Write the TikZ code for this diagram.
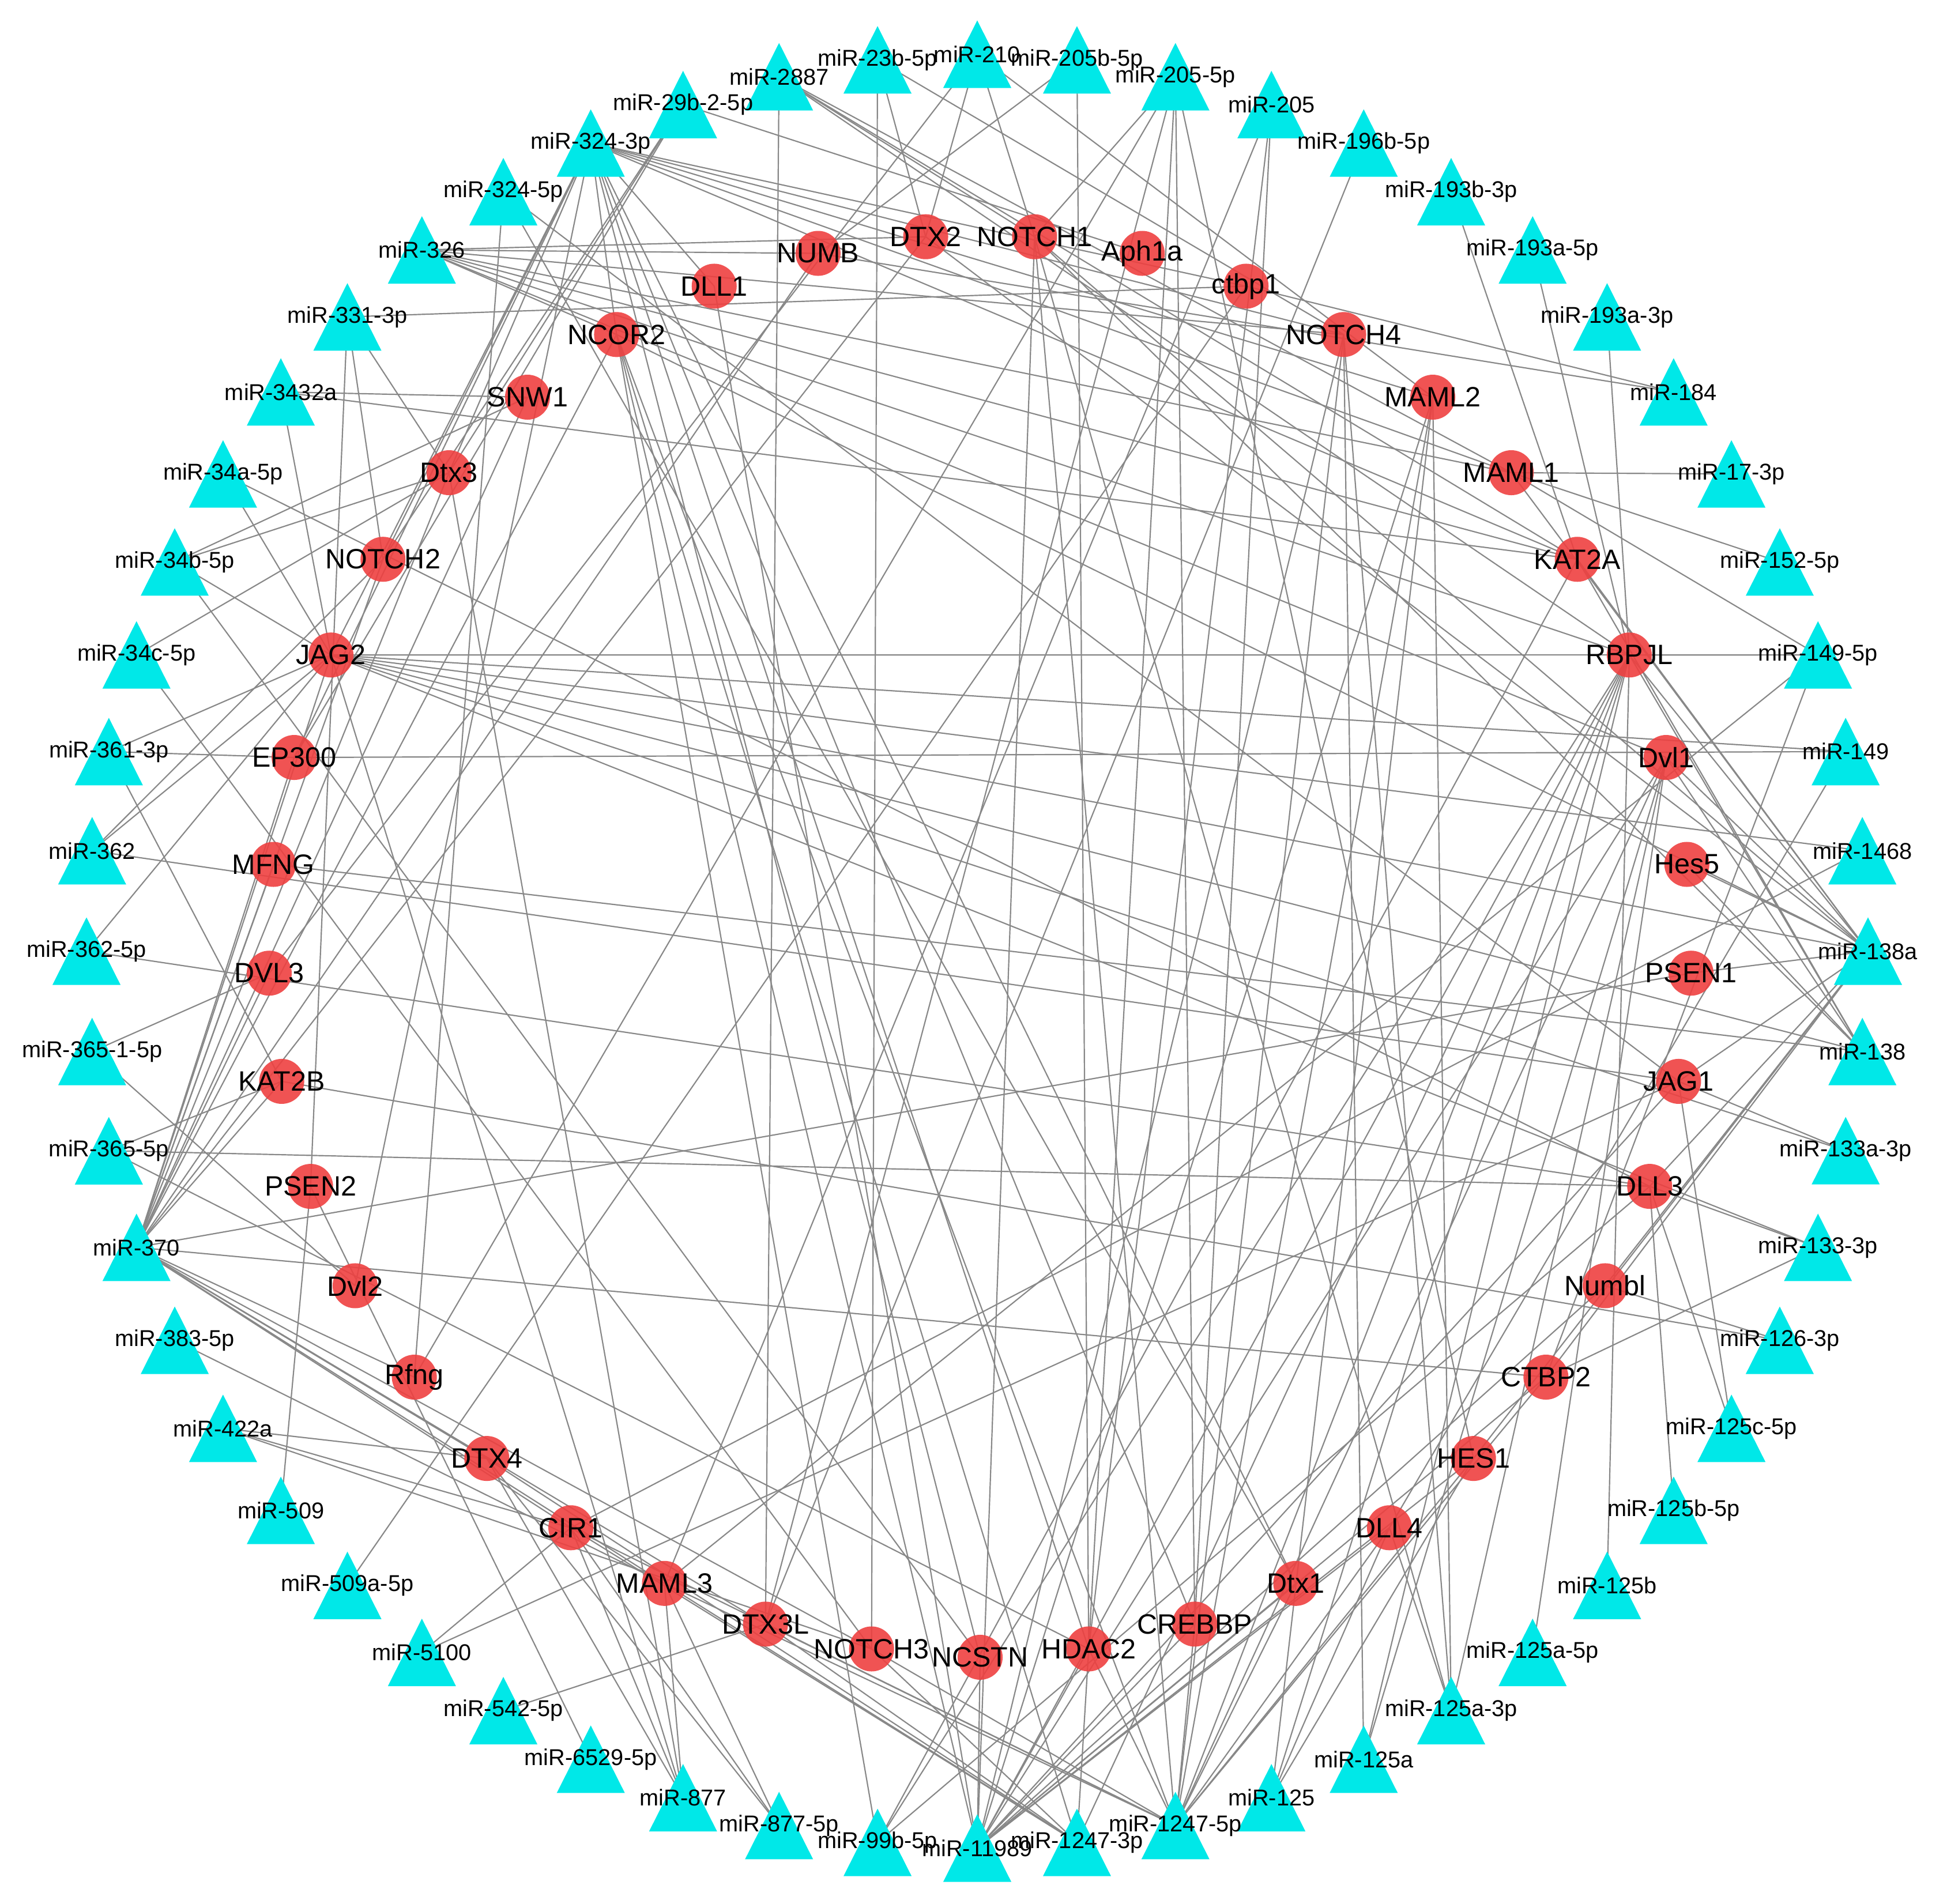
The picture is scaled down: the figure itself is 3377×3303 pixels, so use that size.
\documentclass[tikz,border=0pt]{standalone}
\usepackage{fontspec}
\setmainfont{Liberation Sans}
\usetikzlibrary{backgrounds}
\definecolor{genered}{RGB}{238,64,64}
\definecolor{mircyan}{RGB}{0,232,232}
\definecolor{edgegray}{RGB}{136,136,136}
\def\genes{NOTCH1,Aph1a,ctbp1,NOTCH4,MAML2,MAML1,KAT2A,RBPJL,Dvl1,Hes5,PSEN1,JAG1,DLL3,Numbl,CTBP2,HES1,DLL4,Dtx1,CREBBP,HDAC2,NCSTN,NOTCH3,DTX3L,MAML3,CIR1,DTX4,Rfng,Dvl2,PSEN2,KAT2B,DVL3,MFNG,EP300,JAG2,NOTCH2,Dtx3,SNW1,NCOR2,DLL1,NUMB,DTX2}
\def\mirs{miR-210,miR-205b-5p,miR-205-5p,miR-205,miR-196b-5p,miR-193b-3p,miR-193a-5p,miR-193a-3p,miR-184,miR-17-3p,miR-152-5p,miR-149-5p,miR-149,miR-1468,miR-138a,miR-138,miR-133a-3p,miR-133-3p,miR-126-3p,miR-125c-5p,miR-125b-5p,miR-125b,miR-125a-5p,miR-125a-3p,miR-125a,miR-125,miR-1247-5p,miR-1247-3p,miR-11989,miR-99b-5p,miR-877-5p,miR-877,miR-6529-5p,miR-542-5p,miR-5100,miR-509a-5p,miR-509,miR-422a,miR-383-5p,miR-370,miR-365-5p,miR-365-1-5p,miR-362-5p,miR-362,miR-361-3p,miR-34c-5p,miR-34b-5p,miR-34a-5p,miR-3432a,miR-331-3p,miR-326,miR-324-5p,miR-324-3p,miR-29b-2-5p,miR-2887,miR-23b-5p}
\begin{document}
\begin{tikzpicture}[x=0.01cm,y=-0.01cm,
  gene/.style={circle, fill=genered, fill opacity=0.9, draw=none, minimum size=0.78cm, inner sep=0pt},
  mir/.style={rectangle, draw=none, minimum width=1.18cm, minimum height=1.17cm, inner sep=0pt,
    path picture={\fill[mircyan] (path picture bounding box.south west) -- (path picture bounding box.north) -- (path picture bounding box.south east) -- cycle;}},
  genelab/.style={font=\fontsize{13.8}{16}\selectfont, inner sep=0pt, text=black},
  mirlab/.style={font=\fontsize{11.3}{13}\selectfont, inner sep=0pt, text=black},
  edge/.style={draw=edgegray, line width=0.62pt}]
\useasboundingbox (0,0) rectangle (3377,3303);
% gene nodes (inner circle)
\foreach \g [count=\i from 0] in \genes {
  \pgfmathsetmacro\a{90-360/41*(\i+0.5)}
  \node[gene] (\g) at ({1700+1234*cos(\a)},{1641-1234*sin(\a)}) {};
}
% miRNA nodes (outer circle)
\foreach \m [count=\j from 0] in \mirs {
  \pgfmathsetmacro\a{90-360/56*\j}
  \node[mir] (\m) at ({1695+1545*cos(\a)},{1650-1556*sin(\a)}) {};
}
% labels
\foreach \g in \genes { \node[genelab] (\g-lab) at (\g.center) {\g}; }
\foreach \m in \mirs { \node[mirlab] (\m-lab) at (\m.center) {\m}; }
% connectors
\begin{pgfonlayer}{background}
\foreach \m/\gl in {
miR-210/{DTX2,NOTCH1,DVL3,MAML2},
miR-205b-5p/{NUMB,HDAC2},
miR-205-5p/{NOTCH1,DTX3L,CREBBP,HDAC2,HES1,Rfng},
miR-205/{MAML3,CREBBP,HDAC2},
miR-196b-5p/{DTX3L},
miR-193b-3p/{KAT2A},
miR-193a-5p/{RBPJL},
miR-193a-3p/{RBPJL},
miR-184/{ctbp1,NUMB},
miR-17-3p/{MAML1},
miR-152-5p/{MAML1},
miR-149-5p/{MAML1,RBPJL,JAG2,CTBP2,MAML3},
miR-149/{JAG2,EP300,DLL4},
miR-1468/{JAG2,CIR1},
miR-138a/{Hes5,Dvl1,RBPJL,KAT2A,MAML1,JAG2,DLL3,JAG1,Numbl,CTBP2,PSEN1,NCOR2,HES1,NOTCH1,DTX2},
miR-138/{JAG2,MFNG,RBPJL,Hes5,Dvl1,KAT2A,NOTCH1},
miR-133a-3p/{JAG2,JAG1},
miR-133-3p/{JAG2,DLL3,CTBP2},
miR-126-3p/{KAT2B,Numbl},
miR-125c-5p/{JAG1,DLL3},
miR-125b-5p/{DLL3},
miR-125b/{RBPJL},
miR-125a-5p/{Dvl1},
miR-125a-3p/{DLL4,MAML2,NOTCH4,NOTCH1,Dvl1},
miR-125a/{RBPJL,Dvl1,NOTCH4},
miR-125/{DLL4,HES1,RBPJL,MAML2},
miR-1247-5p/{CREBBP,HDAC2,Dtx1,DLL4,HES1,CTBP2,NOTCH3,DTX3L,MAML3,CIR1,RBPJL,Dvl1,NOTCH4,MAML2,NCOR2,NOTCH1},
miR-1247-3p/{NOTCH3,DTX3L,MAML3,CIR1,DTX4,HDAC2,RBPJL,NCOR2},
miR-11989/{NCSTN,HDAC2,CREBBP,Dtx1,DLL4,HES1,CTBP2,Numbl,JAG1,RBPJL,Dvl1,NOTCH4,MAML2,NOTCH1,DLL1,NCOR2},
miR-99b-5p/{DLL3,NCOR2,KAT2A,RBPJL},
miR-877-5p/{MAML3,CIR1,DTX4},
miR-877/{CIR1,JAG2,MAML3,DTX4,Dtx3},
miR-6529-5p/{PSEN2},
miR-542-5p/{DTX3L},
miR-5100/{CIR1,JAG1},
miR-509a-5p/{ctbp1},
miR-509/{PSEN2},
miR-422a/{DTX4,CIR1,NOTCH3},
miR-383-5p/{MAML3},
miR-370/{JAG2,EP300,MFNG,NOTCH2,Dtx3,SNW1,NCOR2,NUMB,DTX2,DVL3,KAT2B,PSEN1,CTBP2,Rfng,DTX4,CIR1,MAML3,DTX3L,NOTCH3},
miR-365-5p/{KAT2B,HDAC2,DLL3},
miR-365-1-5p/{DVL3,Dvl2},
miR-362-5p/{DLL3,JAG2},
miR-362/{JAG1,JAG2,NOTCH2},
miR-361-3p/{EP300,JAG2,KAT2B},
miR-34c-5p/{NOTCH3,Dtx3},
miR-34b-5p/{Dtx3,SNW1,JAG2,NCSTN},
miR-34a-5p/{JAG2,DLL3},
miR-3432a/{KAT2A,JAG2,SNW1},
miR-331-3p/{ctbp1,NOTCH2,PSEN2,Dtx3},
miR-326/{NUMB,DTX2,NCOR2,NOTCH4,MAML1,KAT2A,RBPJL,Dvl1},
miR-324-5p/{Rfng,Dtx1,JAG1},
miR-324-3p/{NOTCH2,JAG2,Dtx3,EP300,NCOR2,DLL1,ctbp1,NOTCH4,MAML2,MAML1,KAT2A,Dtx1,HDAC2,CREBBP,NCSTN,Dvl2},
miR-29b-2-5p/{Dtx3,EP300,Aph1a,NOTCH2},
miR-2887/{DTX3L,NOTCH1,MAML1,KAT2A,RBPJL},
miR-23b-5p/{NOTCH3,NOTCH4,DTX2}}
{ \foreach \g in \gl { \draw[edge] (\m.center) -- (\g.center); } }
\end{pgfonlayer}
\end{tikzpicture}
\end{document}
